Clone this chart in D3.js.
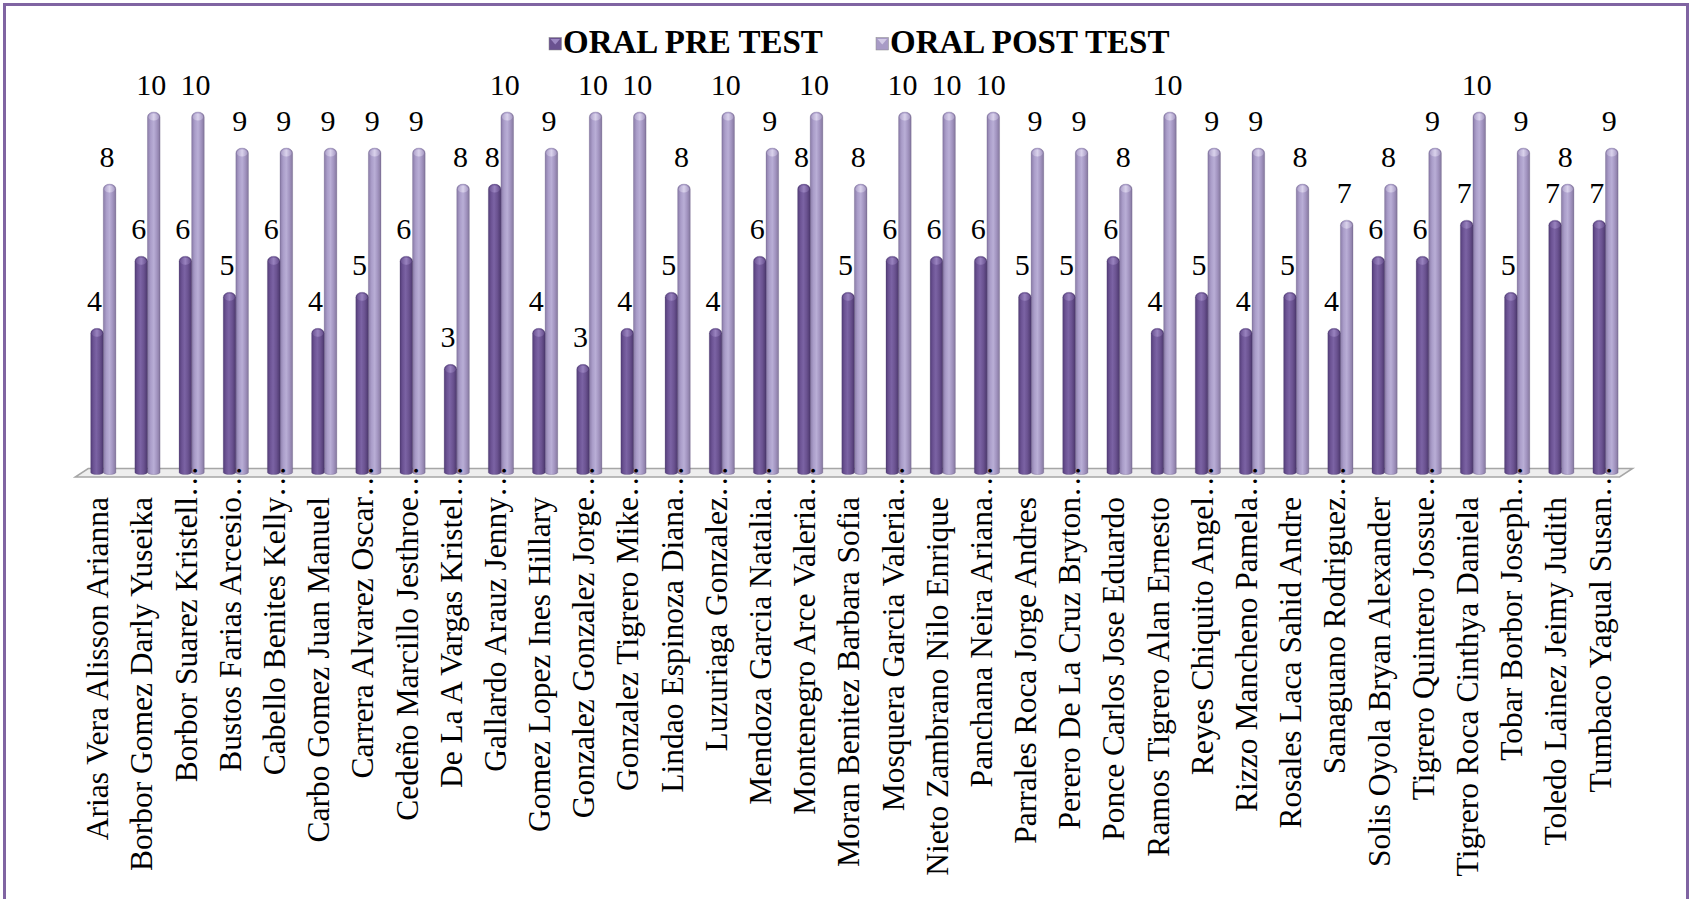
<!DOCTYPE html>
<html>
<head>
<meta charset="utf-8">
<script src="https://cdn.jsdelivr.net/npm/d3@7"></script>
<style>
  html, body { margin: 0; padding: 0; background: #ffffff; }
  svg { display: block; }
</style>
</head>
<body>
<svg id="chart" width="1691" height="899"></svg>
<script>
// ---- data ----
const categories = [
  "Arias Vera Alisson Arianna", "Borbor Gomez Darly Yuseika", "Borbor Suarez Kristell…",
  "Bustos Farias Arcesio…", "Cabello Benites Kelly…", "Carbo Gomez Juan Manuel",
  "Carrera Alvarez Oscar…", "Cedeño Marcillo Jesthroe…", "De La A Vargas Kristel…",
  "Gallardo Arauz Jenny…", "Gomez Lopez Ines Hillary", "Gonzalez Gonzalez Jorge…",
  "Gonzalez Tigrero Mike…", "Lindao Espinoza Diana…", "Luzuriaga Gonzalez…",
  "Mendoza Garcia Natalia…", "Montenegro Arce Valeria…", "Moran Benitez Barbara Sofia",
  "Mosquera Garcia Valeria…", "Nieto Zambrano Nilo Enrique", "Panchana Neira Ariana…",
  "Parrales Roca Jorge Andres", "Perero De La Cruz Bryton…", "Ponce Carlos Jose Eduardo",
  "Ramos Tigrero Alan Ernesto", "Reyes Chiquito Angel…", "Rizzo Mancheno Pamela…",
  "Rosales Laca Sahid Andre", "Sanaguano Rodriguez…", "Solis Oyola Bryan Alexander",
  "Tigrero Quintero Jossue…", "Tigrero Roca Cinthya Daniela", "Tobar Borbor Joseph…",
  "Toledo Lainez Jeimy Judith", "Tumbaco Yagual Susan…"
];
const preTest  = [4,6,6,5,6,4,5,6,3,8,4,3,4,5,4,6,8,5,6,6,6,5,5,6,4,5,4,5,4,6,6,7,5,7,7];
const postTest = [8,10,10,9,9,9,9,9,8,10,9,10,10,8,10,9,10,8,10,10,10,9,9,8,10,9,9,8,7,8,9,10,9,8,9];
const seriesNames = ["ORAL PRE TEST", "ORAL POST TEST"];

// ---- layout ----
const svg = d3.select("#chart");
const FONT = "'Liberation Serif', 'Times New Roman', serif";

const x = d3.scaleBand().domain(categories.map((d, i) => i)).range([81.2, 1627.6]).padding(0);
const y = d3.scaleLinear().domain([0, 10]).range([472.5, 112]);
const barW = 12.6;

// gradients
const defs = svg.append("defs");
function hGrad(id, stops) {
  const g = defs.append("linearGradient").attr("id", id)
    .attr("x1", "0%").attr("x2", "100%").attr("y1", "0%").attr("y2", "0%");
  stops.forEach(s => g.append("stop").attr("offset", s[0]).attr("stop-color", s[1]));
}
hGrad("gPre",  [[0, "#533d78"], [0.22, "#6c5394"], [0.45, "#7b63a4"], [0.72, "#6a5290"], [1, "#4c386d"]]);
hGrad("gPost", [[0, "#8a7ca8"], [0.25, "#aa9dc9"], [0.5, "#b9aed6"], [0.75, "#a294c0"], [1, "#85789e"]]);
hGrad("gPreTop",  [[0, "#6d5594"], [0.5, "#9c86c2"], [1, "#6a5290"]]);
hGrad("gPostTop", [[0, "#b0a4cc"], [0.5, "#ddd6ee"], [1, "#a99cc6"]]);

// frame
svg.append("rect").attr("x", 4.5).attr("y", 4.5).attr("width", 1683).attr("height", 930)
  .attr("fill", "none").attr("stroke", "#8064a2").attr("stroke-width", 3);

// floor (3D base)
const fx0 = x.range()[0], fx1 = x.range()[1];
svg.append("path")
  .attr("d", `M${fx0 + 7},468.5 L${fx1 + 5},468.5 L${fx1 - 8},477 L${fx0 - 6},477 Z`)
  .attr("fill", "#eeeeee").attr("stroke", "#a6a6a6").attr("stroke-width", 1.5);

// cylinder path
function cyl(x0, w, yTop, yBot) {
  const r = w / 2, cap = 5;
  return `M${x0},${yBot} L${x0},${yTop + cap} A${r},${cap} 0 0 1 ${x0 + w},${yTop + cap} L${x0 + w},${yBot} A${r},2 0 0 1 ${x0},${yBot} Z`;
}

const series = [
  { name: seriesNames[1], values: postTest, off: 0, fill: "url(#gPost)", top: "url(#gPostTop)" },
  { name: seriesNames[0], values: preTest, off: -1, fill: "url(#gPre)", top: "url(#gPreTop)" }
];

series.forEach(s => {
  const g = svg.append("g");
  s.values.forEach((v, i) => {
    const cx = x(i) + x.bandwidth() / 2;
    const x0 = cx + s.off * barW;
    g.append("path").attr("d", cyl(x0, barW, y(v), y(0)))
      .attr("fill", s.fill).attr("stroke", "rgba(60,45,90,0.35)").attr("stroke-width", 0.6);
    g.append("ellipse").attr("cx", x0 + barW / 2).attr("cy", y(v) + 5)
      .attr("rx", barW / 2 - 1).attr("ry", 3.5).attr("fill", s.top).attr("opacity", 0.9);
  });
});

// value labels
series.forEach(s => {
  svg.append("g").selectAll("text").data(s.values).join("text")
    .attr("x", (v, i) => x(i) + x.bandwidth() / 2 + s.off * barW + barW / 2 - 2.5)
    .attr("y", v => y(v) - 17)
    .attr("text-anchor", "middle")
    .attr("font-family", FONT).attr("font-size", 30).attr("fill", "#000")
    .text(v => v);
});

// category labels (rotated)
const labY = 497;
const lg = svg.append("g");
categories.forEach((c, i) => {
  const cx = x(i) + x.bandwidth() / 2 + 5;
  const trunc = c.endsWith("…");
  const base = trunc ? c.slice(0, -1) : c;
  lg.append("text")
    .attr("transform", `translate(${cx},${labY}) rotate(-90)`)
    .attr("text-anchor", "end")
    .attr("font-family", FONT).attr("font-size", 31.5).attr("fill", "#000")
    .text(base);
  if (trunc) {
    lg.append("text")
      .attr("transform", `translate(${cx},${labY}) rotate(-90)`)
      .attr("text-anchor", "start")
      .attr("font-family", FONT).attr("font-size", 31.5).attr("fill", "#000")
      .text("…");
  }
});

// legend
const legend = [
  { name: seriesNames[0], x: 549, base: "#6a5290", tri: "#9d89c3" },
  { name: seriesNames[1], x: 876, base: "#a89bc6", tri: "#d3cbe6" }
];
legend.forEach(l => {
  const g = svg.append("g");
  g.append("rect").attr("x", l.x).attr("y", 37.5).attr("width", 12.5).attr("height", 12.5)
    .attr("fill", l.base).attr("stroke", "#8a8a8a").attr("stroke-width", 0.5);
  g.append("path").attr("d", `M${l.x + 1.5},${39} L${l.x + 11},${39} L${l.x + 6.25},${44.5} Z`)
    .attr("fill", l.tri);
  g.append("text").attr("x", l.x + 14).attr("y", 53)
    .attr("font-family", FONT).attr("font-size", 33).attr("font-weight", "bold").attr("fill", "#000")
    .text(l.name);
});
</script>
</body>
</html>
